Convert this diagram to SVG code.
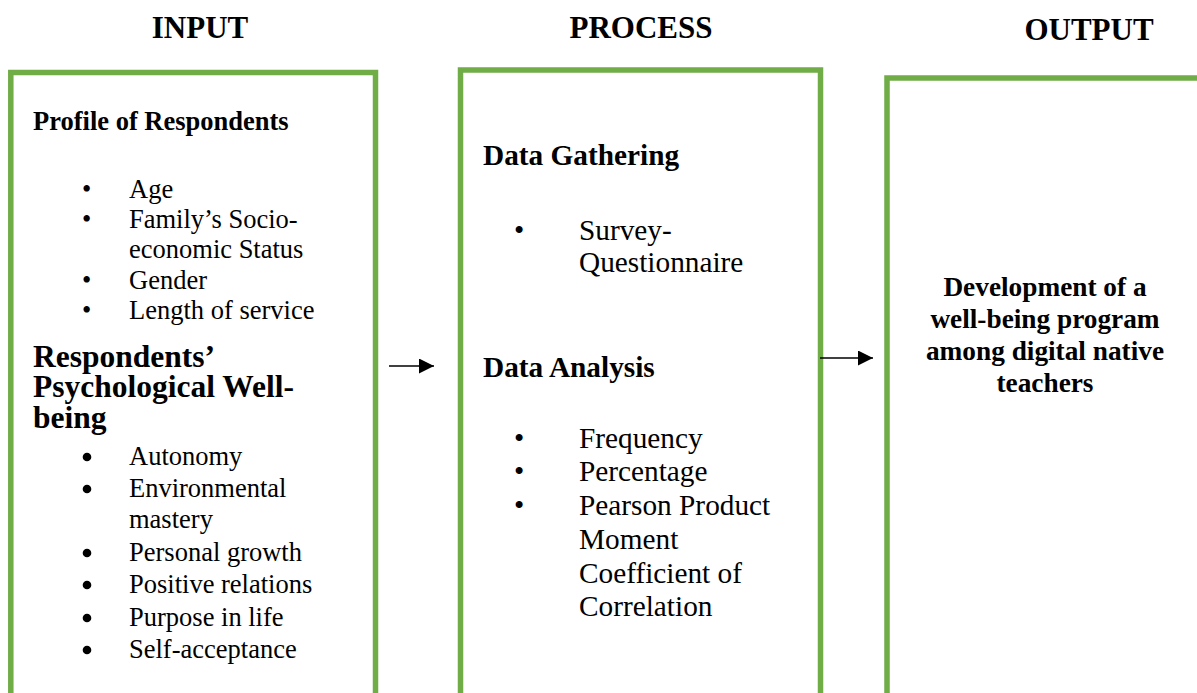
<svg xmlns="http://www.w3.org/2000/svg" width="1197" height="693" viewBox="0 0 1197 693">
  <style>
    .title { font-family: "Liberation Serif", "Times New Roman", serif; font-weight: bold; font-size: 31px; fill: #000; text-anchor: middle; }
    .box { fill: none; stroke: #70AD47; stroke-width: 5.5; }
    .in { font-family: "Liberation Serif", "Times New Roman", serif; font-size: 26.5px; fill: #000; }
    .inb { font-family: "Liberation Serif", "Times New Roman", serif; font-size: 26.5px; font-weight: bold; fill: #000; }
    .head { font-family: "Liberation Serif", "Times New Roman", serif; font-size: 31.5px; font-weight: bold; fill: #000; }
    .pr { font-family: "Liberation Serif", "Times New Roman", serif; font-size: 29.3px; fill: #000; }
    .prb { font-family: "Liberation Serif", "Times New Roman", serif; font-size: 29.3px; font-weight: bold; fill: #000; }
    .out { font-family: "Liberation Serif", "Times New Roman", serif; font-size: 27.3px; font-weight: bold; fill: #000; text-anchor: middle; }
    .dot { font-family: "Liberation Serif", "Times New Roman", serif; font-size: 26.5px; fill: #000; }
    .conn { stroke: #000; stroke-width: 1.6; fill: none; }
  </style>
  <defs>
    <marker id="arrow" markerUnits="userSpaceOnUse" markerWidth="15" markerHeight="15" refX="15" refY="7.5" orient="auto">
      <path d="M0,0 L15,7.5 L0,15 Z" fill="#000"/>
    </marker>
  </defs>

  <rect width="1197" height="693" fill="#fff"/>

  <!-- column titles -->
  <g id="titles">
    <text class="title" x="200" y="38">INPUT</text>
    <text class="title" x="641" y="38">PROCESS</text>
    <text class="title" x="1089" y="40">OUTPUT</text>
  </g>

  <!-- INPUT column -->
  <g id="input">
    <rect class="box" x="10.8" y="72.5" width="364.7" height="640"/>
    <text class="inb" x="33" y="130">Profile of Respondents</text>
    <text class="dot" x="82" y="198">•</text>
    <text class="in" x="129" y="198">Age</text>
    <text class="dot" x="82" y="228">•</text>
    <text class="in" x="129" y="228">Family’s Socio-</text>
    <text class="in" x="129" y="258">economic Status</text>
    <text class="dot" x="82" y="289">•</text>
    <text class="in" x="129" y="289">Gender</text>
    <text class="dot" x="82" y="319">•</text>
    <text class="in" x="129" y="319">Length of service</text>
    <text class="head" x="33" y="367">Respondents’</text>
    <text class="head" x="33" y="397">Psychological Well-</text>
    <text class="head" x="33" y="428">being</text>
    <g>
      <circle cx="87" cy="457" r="4.3"/>
      <text class="in" x="129" y="465">Autonomy</text>
      <circle cx="87" cy="489" r="4.3"/>
      <text class="in" x="129" y="497">Environmental</text>
      <text class="in" x="129" y="528">mastery</text>
      <circle cx="87" cy="553" r="4.3"/>
      <text class="in" x="129" y="561">Personal growth</text>
      <circle cx="87" cy="585" r="4.3"/>
      <text class="in" x="129" y="593">Positive relations</text>
      <circle cx="87" cy="618" r="4.3"/>
      <text class="in" x="129" y="626">Purpose in life</text>
      <circle cx="87" cy="650" r="4.3"/>
      <text class="in" x="129" y="658">Self-acceptance</text>
    </g>
  </g>

  <!-- PROCESS column -->
  <g id="process">
    <rect class="box" x="460.5" y="70" width="360" height="640"/>
    <text class="prb" x="483" y="165">Data Gathering</text>
    <text class="pr" x="514" y="240">•</text>
    <text class="pr" x="579" y="240">Survey-</text>
    <text class="pr" x="579" y="272">Questionnaire</text>
    <text class="prb" x="483" y="377">Data Analysis</text>
    <text class="pr" x="514" y="448">•</text>
    <text class="pr" x="579" y="448">Frequency</text>
    <text class="pr" x="514" y="481">•</text>
    <text class="pr" x="579" y="481">Percentage</text>
    <text class="pr" x="514" y="515">•</text>
    <text class="pr" x="579" y="515">Pearson Product</text>
    <text class="pr" x="579" y="549">Moment</text>
    <text class="pr" x="579" y="583">Coefficient of</text>
    <text class="pr" x="579" y="616">Correlation</text>
  </g>

  <!-- OUTPUT column -->
  <g id="output">
    <rect class="box" x="887" y="78" width="400" height="640"/>
    <text class="out" x="1045" y="296">Development of a</text>
    <text class="out" x="1045" y="328">well-being program</text>
    <text class="out" x="1045" y="360">among digital native</text>
    <text class="out" x="1045" y="392">teachers</text>
  </g>

  <!-- connectors -->
  <g id="connectors">
    <line class="conn" x1="389" y1="366" x2="434" y2="366" marker-end="url(#arrow)"/>
    <line class="conn" x1="820" y1="358" x2="873" y2="358" marker-end="url(#arrow)"/>
  </g>
</svg>
